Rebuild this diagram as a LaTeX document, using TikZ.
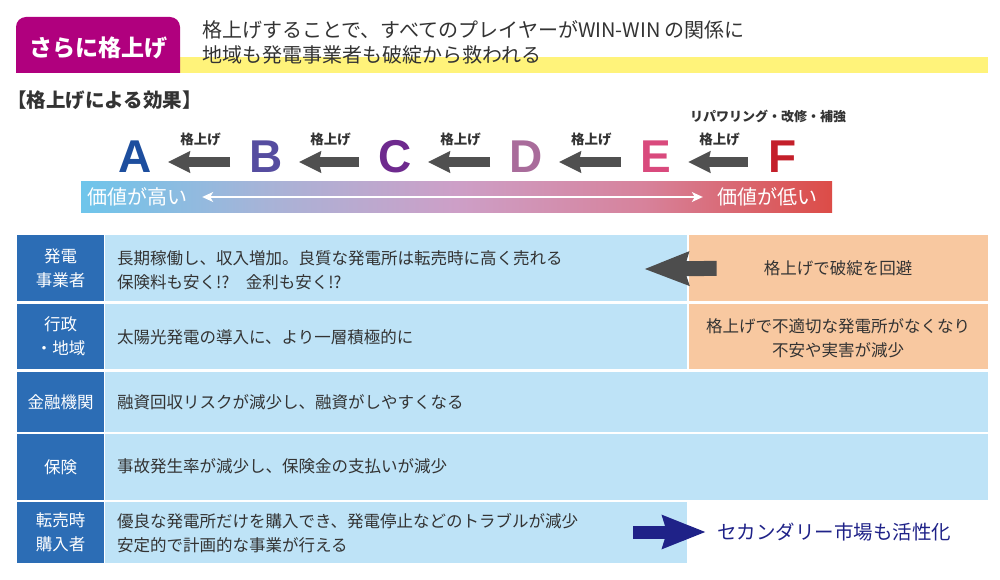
\documentclass[tikz,border=0pt]{standalone}
\usepackage{fontspec}
\setmainfont{Noto Sans CJK JP}
\newfontfamily\letterfont{Liberation Sans}
\usetikzlibrary{arrows.meta}
\definecolor{tabc}{HTML}{B0007E}
\definecolor{yellowc}{HTML}{FFF37A}
\definecolor{textc}{HTML}{333333}
\definecolor{leftc}{HTML}{2C6DB5}
\definecolor{cellc}{HTML}{BEE3F7}
\definecolor{orangec}{HTML}{F8C8A0}
\definecolor{darkc}{HTML}{4D4D4D}
\definecolor{grayarrc}{HTML}{505050}
\definecolor{navyc}{HTML}{1F2288}
\definecolor{colA}{HTML}{1D4E9E}
\definecolor{colB}{HTML}{564DA0}
\definecolor{colC}{HTML}{6E2A8E}
\definecolor{colD}{HTML}{A96C9B}
\definecolor{colE}{HTML}{D94A7D}
\definecolor{colF}{HTML}{C41F2A}
\definecolor{g0}{HTML}{6EC5EB}
\definecolor{g1}{HTML}{A8B3D7}
\definecolor{g2}{HTML}{CD9FC7}
\definecolor{g3}{HTML}{D7829B}
\definecolor{g4}{HTML}{DC4C47}
\pgfdeclarehorizontalshading{valbar}{100bp}{color(0bp)=(g0); color(25bp)=(g0); color(37.5bp)=(g1); color(50bp)=(g2); color(62.5bp)=(g3); color(75bp)=(g4); color(100bp)=(g4)}
\tikzset{
  letter/.style={inner sep=0pt, minimum width=32pt, font=\letterfont\bfseries\fontsize{46}{46}\selectfont},
  grayarr/.style={draw=grayarrc, line width=10pt, -{Stealth[length=22pt,width=21pt,inset=2pt]}, shorten <=19pt, shorten >=16pt},
  uplbl/.style={midway, yshift=23pt, text=textc, font=\bfseries\fontsize{13.5}{14}\selectfont},
  barlbl/.style={inner sep=0pt, text=white, font=\fontsize{20}{22}\selectfont},
  leftlbl/.style={fill=leftc, text=white, minimum width=87pt, inner sep=0pt, align=center, font=\fontsize{16.5}{24}\selectfont},
  body/.style={inner sep=0pt, text=textc, font=\fontsize{16.5}{24}\selectfont},
  head/.style={inner sep=0pt, text=textc, anchor=west, font=\fontsize{20}{24}\selectfont}
}
\begin{document}
\begin{tikzpicture}[x=1pt,y=-1pt]
\path[use as bounding box, fill=white] (0,0) rectangle (1000,580);

% ---- header
\fill[yellowc] (180,57) rectangle (988,73);
\begin{scope}
  \clip (0,0) rectangle (1000,73);
  \fill[tabc, rounded corners=10pt] (16,17) rectangle (180,95);
\end{scope}
\node[inner sep=0pt, text=white, font=\bfseries\fontsize{23}{24}\selectfont] (title) at (98,48) {さらに格上げ};
\node[head] (h1) at (202,30) {格上げすることで、すべてのプレイヤーがWIN-WIN の関係に};
\node[head] (h2) at (202,55) {地域も発電事業者も破綻から救われる};
\node[inner sep=0pt, anchor=west, text=textc, font=\bfseries\fontsize{19.5}{22}\selectfont] (eff) at (7,100) {【格上げによる効果】};

% ---- grade letters
\node[letter, text=colA] (A) at (135,157) {A};
\node[letter, text=colB] (B) at (266,157) {B};
\node[letter, text=colC] (C) at (395,157) {C};
\node[letter, text=colD] (D) at (526,157) {D};
\node[letter, text=colE] (E) at (656,157) {E};
\node[letter, text=colF] (F) at (783,157) {F};
\draw[grayarr] ([yshift=-5pt]B.west) -- ([yshift=-5pt]A.east) node[uplbl] {格上げ};
\draw[grayarr] ([yshift=-5pt]C.west) -- ([yshift=-5pt]B.east) node[uplbl] {格上げ};
\draw[grayarr] ([yshift=-5pt]D.west) -- ([yshift=-5pt]C.east) node[uplbl] {格上げ};
\draw[grayarr] ([yshift=-5pt]E.west) -- ([yshift=-5pt]D.east) node[uplbl] {格上げ};
\draw[grayarr] ([yshift=-5pt]F.west) -- ([yshift=-5pt]E.east) node[uplbl] {格上げ};
\node[inner sep=0pt, text=textc, font=\bfseries\fontsize{13}{14}\selectfont] (rep) at (768,116) {リパワリング・改修・補強};

% ---- value bar
\fill[shading=valbar] (81,181) rectangle (832,212);
\node[barlbl] (hi) at (137,197) {価値が高い};
\node[barlbl] (lo) at (767,197) {価値が低い};
\draw[white, line width=1.4pt, {Stealth[length=11pt,width=10pt,inset=3pt]}-{Stealth[length=11pt,width=10pt,inset=3pt]}, shorten <=15pt, shorten >=14pt] (hi.east) -- (lo.west);

% ---- table
\node[leftlbl, minimum height=66pt] (l1) at (60.5,268) {発電\\事業者};
\node[leftlbl, minimum height=65pt] (l2) at (60.5,336.5) {行政\\・地域};
\node[leftlbl, minimum height=60pt] (l3) at (60.5,402) {金融機関};
\node[leftlbl, minimum height=66pt] (l4) at (60.5,467) {保険};
\node[leftlbl, minimum height=61pt] (l5) at (60.5,532.5) {転売時\\購入者};

\fill[cellc] (105,235) rectangle (687,301);
\fill[orangec] (689,235) rectangle (988,301);
\fill[cellc] (105,304) rectangle (687,369);
\fill[orangec] (689,304) rectangle (988,369);
\fill[cellc] (105,372) rectangle (988,432);
\fill[cellc] (105,434) rectangle (988,500);
\fill[cellc] (105,502) rectangle (687,563);

\node[body, anchor=west, align=left] (t1) at (117,270) {長期稼働し、収入増加。良質な発電所は転売時に高く売れる\\保険料も安く!?\hspace{1em}金利も安く!?};
\node[body, anchor=west] (t2) at (117,337) {太陽光発電の導入に、より一層積極的に};
\node[body, anchor=west] (t3) at (117,402) {融資回収リスクが減少し、融資がしやすくなる};
\node[body, anchor=west] (t4) at (117,466) {事故発生率が減少し、保険金の支払いが減少};
\node[body, anchor=west, align=left] (t5) at (117,533) {優良な発電所だけを購入でき、発電停止などのトラブルが減少\\安定的で計画的な事業が行える};

\node[body, align=center] (o1) at (838,268) {格上げで破綻を回避};
\node[body, align=center] (o2) at (838,338) {格上げで不適切な発電所がなくなり\\不安や実害が減少};

\coordinate (r1tip) at (644,269);
\draw[darkc, line width=15pt, -{Stealth[length=44pt,width=32pt,inset=4pt]}, shorten <=47pt] (o1.west) -- (r1tip);

\node[inner sep=0pt, anchor=west, text=navyc, font=\fontsize{19.5}{22}\selectfont] (sec) at (717,532) {セカンダリー市場も活性化};
\coordinate (r5tail) at (633,532);
\draw[navyc, line width=13pt, -{Stealth[length=43pt,width=32pt,inset=4pt]}, shorten >=11pt] (r5tail) -- (sec.west);
\end{tikzpicture}
\end{document}
